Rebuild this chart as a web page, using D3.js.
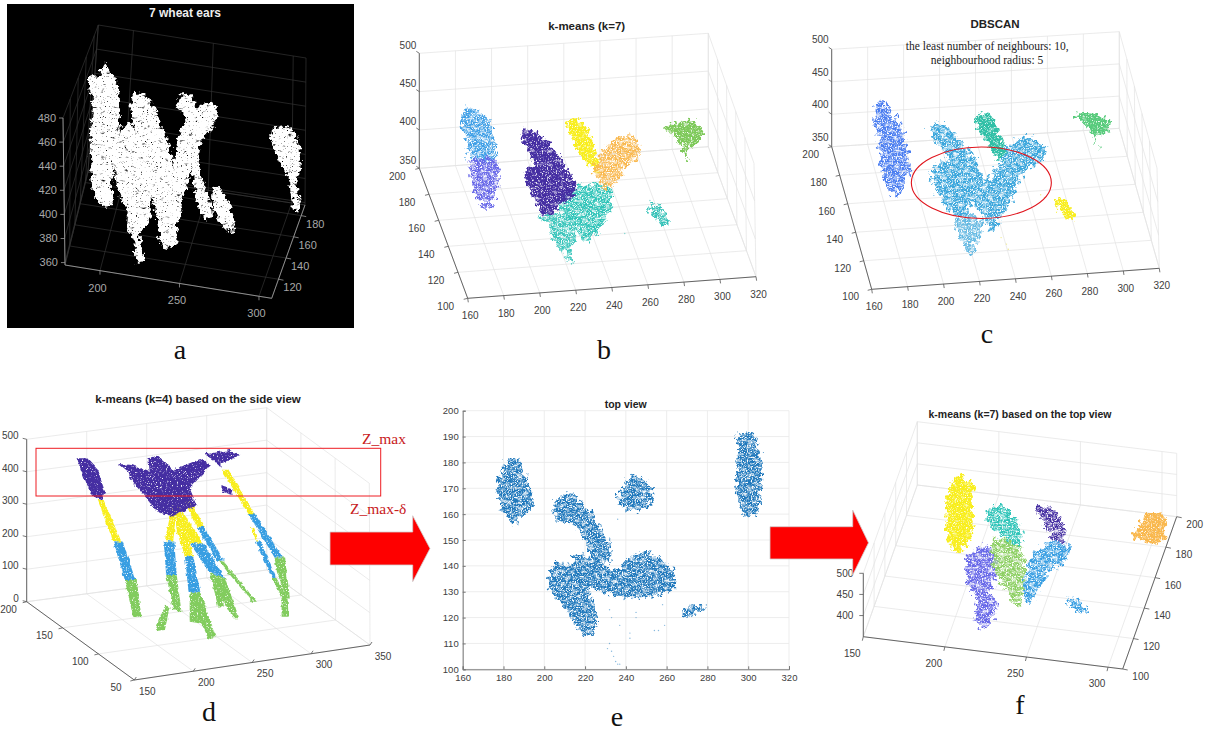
<!DOCTYPE html>
<html>
<head>
<meta charset="utf-8">
<script src="https://cdn.jsdelivr.net/npm/d3@7"></script>
<style>
    html, body { margin: 0; background: #fff; }
    svg { display: block; }
    text { font-family: "Liberation Sans", Arial, sans-serif; }
    .serif { font-family: "Liberation Serif", "Times New Roman", serif; }
</style>
</head>
<body>
<svg id="chart" width="1213" height="732"></svg>
<script>
// tick labels
const xTicksWide = [160, 180, 200, 220, 240, 260, 280, 300, 320];
const yTicksWide = [100, 120, 140, 160, 180, 200];
const zTicksWide = [350, 400, 450, 500];
const xTicksA = [200, 250, 300];
const yTicksA = [120, 140, 160, 180];
const zTicksA = [360, 380, 400, 420, 440, 460, 480];
const xTicksD = [150, 200, 250, 300, 350];
const yTicksD = [50, 100, 150, 200];
const zTicksD = [0, 100, 200, 300, 400, 500];
const xTicksE = [160, 180, 200, 220, 240, 260, 280, 300, 320];
const yTicksE = [100, 110, 120, 130, 140, 150, 160, 170, 180, 190, 200];
const xTicksF = [150, 200, 250, 300];
const yTicksF = [100, 120, 140, 160, 180, 200];
const zTicksF = [400, 450, 500];

// clouds of panels a, b, c, d, f: outlines read as [x, z] along the picture's axes
const wheatEars = [
    [[202,526],[207,517],[211,509],[212,479],[210,462],[209,440],[207,423],[208,409],[201,407],[195,423],[194,445],[193,462],[195,490],[193,515],[199,516]],
    [[217,476],[222,468],[228,445],[230,432],[232,407],[230,393],[225,384],[226,373],[228,364],[223,361],[221,379],[217,387],[217,401],[211,420],[209,451],[211,468]],
    [[222,501],[229,499],[238,476],[244,454],[246,429],[243,415],[248,390],[248,376],[240,372],[235,401],[228,434],[222,468],[219,490]],
    [[250,498],[257,500],[261,490],[268,493],[273,490],[272,474],[266,465],[262,451],[266,423],[271,400],[266,396],[260,418],[258,437],[252,412],[249,393],[241,397],[244,423],[247,448],[250,468],[254,481],[248,490]],
    [[272,423],[276,421],[282,407],[285,390],[283,385],[276,392],[271,409]],
    [[316,474],[323,468],[327,443],[325,429],[326,403],[323,404],[319,429],[313,445],[309,459],[308,469]]
];
const kmeansBlue = [[159,430],[167,422],[172,413],[175,376],[175,361],[161,361],[160,383],[156,409]];
const kmeansViolet = [[161,361],[175,361],[177,339],[176,320],[171,296],[166,307],[162,330]];
const kmeansPurple = [[190,398],[193,401],[204,385],[213,357],[220,320],[210,300],[206,287],[199,298],[193,326],[191,346],[196,357],[193,374],[190,387]];
const kmeansYellow = [[215,411],[220,415],[226,402],[231,370],[233,339],[229,350],[223,365],[218,387]];
const kmeansOrange = [[236,378],[244,391],[252,391],[256,372],[248,352],[243,335],[237,324],[231,339],[229,350],[233,365]];
const kmeansTeal = [[211,313],[229,330],[240,322],[237,287],[230,261],[225,254],[217,283],[211,294]];
const kmeansTealLow = [[198,287],[209,291],[217,287],[220,261],[217,244],[218,224],[214,237],[207,257],[204,278]];
const kmeansTealSmall = [[260,300],[266,304],[270,287],[272,278],[269,276],[263,287]];
const kmeansGreen = [[269,402],[276,411],[284,413],[290,404],[288,385],[282,376],[283,354],[280,372],[275,391]];
const kmeansStray = [[239,300],[238,298],[247,265],[222,316],[227,327],[261,308]];
const dbscanBlue = [[164,421],[170,409],[176,381],[180,340],[181,309],[179,299],[176,283],[173,274],[167,294],[165,330],[163,371],[161,396]];
const dbscanCyan = [[193,383],[200,385],[209,360],[217,335],[224,299],[230,319],[237,353],[248,365],[257,347],[257,337],[243,304],[239,273],[231,237],[227,219],[222,242],[215,263],[213,245],[206,242],[198,273],[193,306],[198,327],[203,330],[194,365]];
const dbscanCyanLow = [[207,242],[220,242],[221,217],[217,196],[218,186],[216,183],[209,211]];
const dbscanTeal = [[218,396],[225,400],[231,371],[235,340],[231,330],[227,345],[221,371]];
const dbscanGreen = [[273,399],[283,401],[292,389],[292,373],[285,368],[287,345],[283,368],[280,381]];
const dbscanYellow = [[262,270],[267,268],[273,245],[270,237],[265,252]];
const dbscanStray = [[232,210],[235,200],[236,192],[254,276],[256,272]];
const sidePurple = [
    [[101,442],[110,442],[119,406],[125,339],[122,313],[115,323],[108,375]],
    [[137,424],[148,421],[163,400],[162,442],[169,450],[183,406],[206,439],[215,421],[197,349],[203,298],[183,262],[169,277],[158,329],[148,370],[145,400]],
    [[210,454],[231,467],[240,450],[224,426],[224,411],[217,436]],
    [[224,359],[234,344],[233,329],[224,339]]
];
const sideYellow = [
    [[119,313],[124,313],[139,185],[132,187]],
    [[182,293],[187,298],[209,180],[197,180],[200,139],[193,139],[186,216],[185,257],[183,185],[176,190]],
    [[192,318],[196,318],[210,231],[203,231]],
    [[224,406],[230,406],[252,269],[247,269]],
    [[248,231],[251,226],[255,185],[254,185]]
];
const sideBlue = [
    [[132,187],[140,185],[151,67],[142,67]],
    [[175,187],[184,185],[186,82],[177,82]],
    [[193,139],[200,139],[206,31],[196,31]],
    [[197,180],[209,180],[227,72],[214,92]],
    [[203,231],[209,231],[226,128],[220,123]],
    [[247,269],[252,272],[276,136],[269,136]],
    [[253,185],[257,185],[270,77],[267,74]]
];
const sideGreen = [
    [[142,67],[152,67],[156,-46],[149,-46]],
    [[177,82],[186,82],[190,-31],[183,-26]],
    [[177,-12],[180,-15],[176,-87],[168,-90],[172,-41]],
    [[197,31],[206,31],[219,-108],[213,-113],[207,-67],[197,-62]],
    [[214,92],[227,72],[239,-51],[234,-51],[225,10],[226,-15],[221,-15]],
    [[221,128],[226,123],[254,0],[250,0]],
    [[269,136],[278,136],[282,10],[279,10],[271,92]],
    [[267,74],[270,77],[280,10],[281,-46],[275,-46],[275,10]]
];
const topYellow = [[210,726],[214,708],[218,705],[217,663],[218,610],[214,564],[207,549],[202,580],[201,640],[203,689]];
const topTeal = [[230,652],[238,649],[245,614],[248,580],[243,557],[237,580],[228,606],[226,625]];
const topPurple = [[257,649],[265,652],[272,621],[274,572],[269,568],[264,595],[260,621],[257,633]];
const topOrange = [[325,636],[335,634],[336,587],[334,572],[325,572],[316,583],[321,617]];
const topGreen = [[231,580],[243,568],[248,549],[249,458],[245,421],[240,451],[232,496],[229,542]];
const topBlue = [[259,557],[271,572],[278,549],[273,523],[265,504],[258,458],[251,432],[249,458],[252,519]];
const topViolet = [[214,542],[229,561],[232,496],[228,458],[233,436],[229,390],[225,375],[219,398],[220,436],[215,474],[213,519]];
const topBlueSmall = [[275,443],[281,443],[288,417],[286,405],[280,421]];

// panel e is a plain top view, so these outlines are [x, y] on its own axes
const topViewEars = [
    [[183,182],[187,181],[190,176],[193,170],[195,164],[190,160],[185,156],[181,160],[178,165],[177,172],[180,178]],
    [[295,191],[300,191],[303,190],[305,186],[307,178],[306,168],[304,160],[298,160],[295,165],[294,175],[295,185]],
    [[236,166],[238,170],[241,174],[245,175],[249,173],[252,170],[254,167],[250,163],[245,161],[240,162],[237,163]],
    [[206,166],[213,168],[218,165],[223,160],[227,155],[231,150],[232,142],[225,142],[221,148],[215,156],[207,157],[205,161]],
    [[215,144],[222,143],[230,140],[236,138],[241,143],[250,145],[258,142],[263,138],[264,132],[258,129],[248,128],[240,128],[232,129],[225,131],[220,132],[215,136]],
    [[205,141],[212,141],[216,138],[220,133],[224,126],[226,118],[221,113],[216,117],[210,124],[205,128],[202,134]],
    [[268,121],[272,125],[276,125],[279,124],[274,122],[269,120]]
];
const topViewStray = [[232,110],[231,108],[233,107],[234,105],[235,103],[236,102],[237,102],[242,112],[242,114],[237,117],[254,115],[256,115],[259,117],[245,122],[245,120],[232,123],[233,120],[239,127],[258,125],[236,158]];

const svg = d3.select('#chart');
const lerp = (a, b, t) => [a[0] + (b[0] - a[0]) * t, a[1] + (b[1] - a[1]) * t];

const defs = svg.append('defs');
// rough edge, fine specks and softer holes, all from svg noise
function speckFilter(id, o) {
    const f = defs.append('filter').attr('id', id)
        .attr('x', '-5%').attr('y', '-5%').attr('width', '110%').attr('height', '110%')
        .attr('color-interpolation-filters', 'sRGB');
    f.append('feTurbulence').attr('type', 'fractalNoise').attr('baseFrequency', 0.22)
        .attr('numOctaves', 3).attr('seed', 9).attr('result', 'edge');
    f.append('feDisplacementMap').attr('in', 'SourceGraphic').attr('in2', 'edge')
        .attr('scale', o.rough).attr('xChannelSelector', 'R').attr('yChannelSelector', 'G').attr('result', 'rough');
    f.append('feTurbulence').attr('type', 'fractalNoise').attr('baseFrequency', 0.8)
        .attr('numOctaves', 2).attr('seed', 4).attr('result', 'fine');
    f.append('feColorMatrix').attr('in', 'fine').attr('type', 'matrix')
        .attr('values', `0 0 0 0 1  0 0 0 0 1  0 0 0 0 1  ${o.gain} 0 0 0 ${o.offset}`).attr('result', 'fineMask');
    f.append('feTurbulence').attr('type', 'fractalNoise').attr('baseFrequency', '0.17 0.3')
        .attr('numOctaves', 2).attr('seed', 21).attr('result', 'streak');
    f.append('feColorMatrix').attr('in', 'streak').attr('type', 'matrix')
        .attr('values', `0 0 0 0 1  0 0 0 0 1  0 0 0 0 1  ${o.holeGain} 0 0 0 ${o.holeOffset}`).attr('result', 'holeMask');
    f.append('feComposite').attr('in', 'rough').attr('in2', 'fineMask').attr('operator', 'in').attr('result', 'speck');
    f.append('feComposite').attr('in', 'speck').attr('in2', 'holeMask').attr('operator', 'in').attr('result', 'both');
    f.append('feGaussianBlur').attr('in', 'both').attr('stdDeviation', o.blur);
}
speckFilter('speck', { rough: 14, gain: 4, offset: -1.1, holeGain: 2.5, holeOffset: -0.3, blur: 0.5 });
speckFilter('speckDense', { rough: 12, gain: 4, offset: -0.85, holeGain: 2.5, holeOffset: 0, blur: 0.45 });
speckFilter('speckStrip', { rough: 4, gain: 5, offset: -1, holeGain: 2, holeOffset: 0.4, blur: 0.3 });
speckFilter('speckWhite', { rough: 10, gain: 6, offset: -1, holeGain: 4, holeOffset: -0.35, blur: 0.5 });

// one axes box: trilinear mapping between its eight pixel corners
function makeBox(cfg) {
    const sx = d3.scaleLinear().domain(cfg.x).range([0, 1]);
    const sy = d3.scaleLinear().domain(cfg.y).range([0, 1]);
    const sz = d3.scaleLinear().domain(cfg.z).range([0, 1]);
    const c = cfg.corners;
    return (x, y, z) => {
        const tx = sx(x), ty = sy(y);
        const low = lerp(lerp(c.O, c.X, tx), lerp(c.Y, c.XY, tx), ty);
        const high = lerp(lerp(c.Ot, c.Xt, tx), lerp(c.Yt, c.XYt, tx), ty);
        return lerp(low, high, sz(z));
    };
}

function drawBox(cfg) {
    const g = svg.append('g');
    const p = makeBox(cfg);
    const [x0, x1] = cfg.x, [y0, y1] = cfg.y, [z0, z1] = cfg.z;
    const seg = (a, b, color, w) => g.append('line')
        .attr('x1', a[0]).attr('y1', a[1]).attr('x2', b[0]).attr('y2', b[1])
        .attr('stroke', color).attr('stroke-width', w);
    const xs = [x0, ...cfg.xTicks.filter(d => d > x0 && d < x1), x1];
    const ys = [y0, ...cfg.yTicks.filter(d => d > y0 && d < y1), y1];
    const zs = [z0, ...cfg.zGrid.filter(d => d > z0 && d < z1), z1];
    xs.forEach(d => seg(p(d, y0, z0), p(d, y1, z0), cfg.grid, 0.7));
    ys.forEach(d => seg(p(x0, d, z0), p(x1, d, z0), cfg.grid, 0.7));
    xs.forEach(d => seg(p(d, y1, z0), p(d, y1, z1), cfg.grid, 0.7));
    zs.forEach(d => seg(p(x0, y1, d), p(x1, y1, d), cfg.grid, 0.7));
    const side = cfg.sideAt === 'left' ? x0 : x1;
    ys.forEach(d => seg(p(side, d, z0), p(side, d, z1), cfg.grid, 0.7));
    zs.forEach(d => seg(p(side, y0, d), p(side, y1, d), cfg.grid, 0.7));

    // axes: x along the front, y on the far side from the wall, z on the wall's near corner
    const yLineAt = cfg.sideAt === 'left' ? x1 : x0;
    const zLineY = cfg.sideAt === 'left' ? y0 : y1;
    seg(p(x0, y0, z0), p(x1, y0, z0), cfg.axis, 0.9);
    seg(p(yLineAt, y0, z0), p(yLineAt, y1, z0), cfg.axis, 0.9);
    seg(p(x0, zLineY, z0), p(x0, zLineY, cfg.zAxisTop), cfg.axis, 0.9);

    const label = (pos, off, txt, anchor) => g.append('text')
        .attr('x', pos[0] + off[0]).attr('y', pos[1] + off[1])
        .attr('text-anchor', anchor).attr('font-size', cfg.fontSize).attr('fill', cfg.tickColor).text(txt);
    const tick = (pos, v) => seg(pos, [pos[0] + v[0], pos[1] + v[1]], cfg.axis, 0.8);
    cfg.xTicks.forEach(d => {
        const pos = p(d, y0, z0);
        tick(pos, cfg.xMark);
        label(pos, cfg.xLabel, d, 'middle');
    });
    cfg.yTicks.forEach(d => {
        const pos = p(yLineAt, d, z0);
        tick(pos, cfg.yMark);
        label(pos, cfg.yLabel, d, 'middle');
    });
    cfg.zTicks.forEach(d => {
        const pos = p(x0, zLineY, d);
        tick(pos, cfg.zMark);
        label(pos, cfg.zLabel, d, 'end');
    });
    return g;
}

// clouds are filled outlines broken up into specks by the svg filter
function drawCloud(g, xs, ys, outline, color, filter, opacity, curve) {
    g.append('path')
        .attr('d', d3.line().x(d => xs(d[0])).y(d => ys(d[1])).curve(curve || d3.curveCatmullRomClosed.alpha(0.5))(outline))
        .attr('fill', color)
        .attr('opacity', opacity || 1)
        .attr('filter', `url(#${filter})`);
}
function drawStray(g, xs, ys, pts, color) {
    g.selectAll(null).data(pts).enter().append('circle')
        .attr('cx', d => xs(d[0])).attr('cy', d => ys(d[1]))
        .attr('r', 0.7).attr('fill', color).attr('opacity', 0.6);
}
const title = (x, y, txt, size, color) => svg.append('text')
    .attr('x', x).attr('y', y).attr('text-anchor', 'middle')
    .attr('font-size', size).attr('font-weight', 'bold').attr('fill', color || '#222').text(txt);
const panelLetter = (x, y, txt) => svg.append('text').attr('class', 'serif')
    .attr('x', x).attr('y', y).attr('text-anchor', 'middle')
    .attr('font-size', 28).attr('fill', '#111').text(txt);

// a: 7 wheat ears
svg.append('rect').attr('x', 7).attr('y', 4).attr('width', 347).attr('height', 324).attr('fill', '#000');
const boxA = {
    x: [178, 308], y: [102, 190], z: [358, 480],
    corners: { O: [65, 265], X: [271.7, 298.3], Y: [88, 172], XY: [305, 205],
        Ot: [63, 118], Xt: [271, 150], Yt: [98.3, 25], XYt: [306, 58] },
    xTicks: xTicksA, yTicks: yTicksA, zTicks: zTicksA, zGrid: zTicksA, zAxisTop: 480,
    sideAt: 'left', grid: '#333', axis: '#999', tickColor: '#a8a8a8', fontSize: 11,
    xMark: [0, 4], yMark: [5, 1], zMark: [-4, 0],
    xLabel: [-2.5, 21], yLabel: [14, 12], zLabel: [-7, 3.5]
};
const gA = drawBox(boxA);
const viewXA = d3.scaleLinear().domain([200, 300]).range([100.7, 258.3]);
const viewZA = d3.scaleLinear().domain([360, 480]).range([262.7, 118.3]);
wheatEars.forEach(d => drawCloud(gA, viewXA, viewZA, d, '#fff', 'speckWhite'));
title(185, 17, '7 wheat ears', 12, '#eee');
panelLetter(180, 359, 'a');

// b: k-means (k=7)
const boxB = {
    x: [160, 320], y: [100, 200], z: [350, 500],
    corners: { O: [467.7, 298.3], X: [756, 276.7], Y: [419.3, 168.3], XY: [708.3, 146.7],
        Ot: [467, 180], Xt: [754, 163.3], Yt: [419.3, 53.3], XYt: [708.3, 33.3] },
    xTicks: xTicksWide, yTicks: yTicksWide, zTicks: zTicksWide, zGrid: zTicksWide, zAxisTop: 500,
    sideAt: 'right', grid: '#e3e3e3', axis: '#555', tickColor: '#404040', fontSize: 10,
    xMark: [0.6, 4], yMark: [-4, 1], zMark: [-3, -2],
    xLabel: [2.5, 21], yLabel: [-22, 11.5], zLabel: [-3, -4.5]
};
const gB = drawBox(boxB);
const viewXB = d3.scaleLinear().domain([160, 320]).range([468.3, 756]);
const viewZB = d3.scaleLinear().domain([350, 500]).range([168.3, 53.3]);
drawCloud(gB, viewXB, viewZB, kmeansTealLow, '#3cc6bc', 'speck');
drawCloud(gB, viewXB, viewZB, kmeansTeal, '#2ec4b8', 'speck');
drawCloud(gB, viewXB, viewZB, kmeansTealSmall, '#35c2b8', 'speck');
drawCloud(gB, viewXB, viewZB, kmeansBlue, '#3f9fe6', 'speck');
drawCloud(gB, viewXB, viewZB, kmeansViolet, '#6767e8', 'speck');
drawCloud(gB, viewXB, viewZB, kmeansYellow, '#f8ee1e', 'speckDense');
drawCloud(gB, viewXB, viewZB, kmeansOrange, '#f9b84e', 'speck');
drawCloud(gB, viewXB, viewZB, kmeansPurple, '#452ea2', 'speckDense');
drawCloud(gB, viewXB, viewZB, kmeansGreen, '#7ec95a', 'speckDense');
drawStray(gB, viewXB, viewZB, kmeansStray, '#35c2b8');
title(586.7, 30, 'k-means (k=7)', 11.5);
panelLetter(604, 359, 'b');

// c: DBSCAN
const boxC = {
    x: [160, 320], y: [100, 200], z: [350, 500],
    corners: { O: [871.7, 289.3], X: [1159.3, 268.3], Y: [831.7, 146.7], XY: [1119.3, 128.3],
        Ot: [871, 190], Xt: [1157, 168], Yt: [831.7, 49.3], XYt: [1119.3, 31.7] },
    xTicks: xTicksWide, yTicks: yTicksWide, zTicks: zTicksWide, zGrid: zTicksWide, zAxisTop: 500,
    sideAt: 'right', grid: '#e3e3e3', axis: '#555', tickColor: '#404040', fontSize: 10,
    xMark: [0.6, 4], yMark: [-4, 1], zMark: [-3, -2],
    xLabel: [2.5, 21], yLabel: [-21, 11], zLabel: [-3, -6]
};
const gC = drawBox(boxC);
const viewXC = d3.scaleLinear().domain([160, 320]).range([871.7, 1159.3]);
const viewZC = d3.scaleLinear().domain([350, 500]).range([146.7, 49.3]);
drawCloud(gC, viewXC, viewZC, dbscanBlue, '#4a7df0', 'speck');
drawCloud(gC, viewXC, viewZC, dbscanCyanLow, '#3ea8dc', 'speck', 0.8);
drawCloud(gC, viewXC, viewZC, dbscanTeal, '#2fbfa6', 'speckDense');
drawCloud(gC, viewXC, viewZC, dbscanCyan, '#3aa6dc', 'speck');
drawCloud(gC, viewXC, viewZC, dbscanGreen, '#58cb7c', 'speckDense');
drawCloud(gC, viewXC, viewZC, dbscanYellow, '#f8ee1e', 'speckDense');
drawStray(gC, viewXC, viewZC, dbscanStray, '#e8dc40');
gC.append('ellipse')
    .attr('cx', viewXC(221)).attr('cy', viewZC(294.5)).attr('rx', 70).attr('ry', 35.7)
    .attr('fill', 'none').attr('stroke', '#e0141c').attr('stroke-width', 1.1);
title(995, 28, 'DBSCAN', 11.5);
svg.append('text').attr('class', 'serif').attr('x', 987.3).attr('y', 49.5).attr('text-anchor', 'middle')
    .attr('font-size', 11.5).attr('fill', '#222').text('the least number of neighbours: 10,');
svg.append('text').attr('class', 'serif').attr('x', 987).attr('y', 64).attr('text-anchor', 'middle')
    .attr('font-size', 11.5).attr('fill', '#222').text('neighbourhood radius: 5');
panelLetter(987, 343, 'c');

// d: k-means (k=4) on the side view
const boxD = {
    x: [150, 350], y: [50, 200], z: [0, 500],
    corners: { O: [134.3, 680], X: [370, 645], Y: [26.7, 601.7], XY: [266.7, 570],
        Ot: [134, 510], Xt: [369.3, 483.3], Yt: [26.7, 439.3], XYt: [266.7, 407.7] },
    xTicks: xTicksD, yTicks: yTicksD, zTicks: zTicksD, zGrid: zTicksD, zAxisTop: 500,
    sideAt: 'right', grid: '#e3e3e3', axis: '#555', tickColor: '#404040', fontSize: 10,
    xMark: [2, -3], yMark: [-4, 1], zMark: [-4, -1],
    xLabel: [13, 14.5], yLabel: [-18.2, 11], zLabel: [-8, 0]
};
const gD = drawBox(boxD);
const viewXD = d3.scaleLinear().domain([150, 350]).range([134.3, 370]);
const viewZD = d3.scaleLinear().domain([0, 500]).range([601.7, 439.3]);
const straight = d3.curveLinearClosed;
sideGreen.forEach(d => drawCloud(gD, viewXD, viewZD, d, '#82cc5e', 'speckStrip', 1, straight));
sideBlue.forEach(d => drawCloud(gD, viewXD, viewZD, d, '#389ee2', 'speckStrip', 1, straight));
sideYellow.forEach(d => drawCloud(gD, viewXD, viewZD, d, '#f8ee1e', 'speckStrip', 1, straight));
sidePurple.forEach(d => drawCloud(gD, viewXD, viewZD, d, '#452ea2', 'speckStrip', 1, straight));
svg.append('rect').attr('x', 36).attr('y', 448.3).attr('width', 344.7).attr('height', 47.7)
    .attr('fill', 'none').attr('stroke', '#ee1c22').attr('stroke-width', 1);
svg.append('text').attr('class', 'serif').attr('x', 362).attr('y', 444).attr('font-size', 15.5).attr('fill', '#c8201c').text('Z_max');
svg.append('text').attr('class', 'serif').attr('x', 350).attr('y', 514).attr('font-size', 15.5).attr('fill', '#c8201c').text('Z_max-δ');
title(198, 403, 'k-means (k=4) based on the side view', 11.5);
panelLetter(209, 721, 'd');

// e: top view, plain 2d axes
const xE = d3.scaleLinear().domain([160, 320]).range([462.7, 789]);
const yE = d3.scaleLinear().domain([100, 200]).range([669.3, 410.7]);
const gE = svg.append('g');
gE.selectAll('.gv').data(xTicksE).enter().append('line')
    .attr('x1', xE).attr('x2', xE).attr('y1', yE(100)).attr('y2', yE(200))
    .attr('stroke', '#e8e8e8').attr('stroke-width', 0.8);
gE.selectAll('.gh').data(yTicksE).enter().append('line')
    .attr('y1', yE).attr('y2', yE).attr('x1', xE(160)).attr('x2', xE(320))
    .attr('stroke', '#e8e8e8').attr('stroke-width', 0.8);
topViewEars.forEach(d => drawCloud(gE, xE, yE, d, '#1f78bc', 'speck'));
drawStray(gE, xE, yE, topViewStray, '#3a8cc8');
gE.append('g').attr('transform', `translate(0, ${yE(100)})`)
    .call(d3.axisBottom(xE).tickValues(xTicksE).tickSize(-3).tickPadding(5))
    .call(a => a.selectAll('text').attr('font-size', 9.5).attr('fill', '#404040'))
    .call(a => a.selectAll('line,path').attr('stroke', '#777'));
gE.append('g').attr('transform', `translate(${xE(160)}, 0)`)
    .call(d3.axisLeft(yE).tickValues(yTicksE).tickSize(-3).tickPadding(4))
    .call(a => a.selectAll('text').attr('font-size', 9.5).attr('fill', '#404040'))
    .call(a => a.selectAll('line,path').attr('stroke', '#777'));
title(625.7, 407.5, 'top view', 10.5);
panelLetter(617, 726, 'e');

// f: k-means (k=7) on the top view
const boxF = {
    x: [150, 309], y: [100, 200], z: [350, 500],
    corners: { O: [863.3, 636.7], X: [1122.7, 669], Y: [917.3, 485], XY: [1176.7, 516.7],
        Ot: [863.3, 573.3], Xt: [1122, 600], Yt: [917.3, 421.7], XYt: [1176.7, 453.3] },
    xTicks: xTicksF, yTicks: yTicksF, zTicks: zTicksF, zGrid: zTicksF, zAxisTop: 500,
    sideAt: 'left', grid: '#e3e3e3', axis: '#555', tickColor: '#404040', fontSize: 10,
    xMark: [-1, 4], yMark: [5, 1], zMark: [-4, 0],
    xLabel: [-11, 20], yLabel: [18, 11], zLabel: [-10, 3.5]
};
const gF = drawBox(boxF);
const viewXF = d3.scaleLinear().domain([150, 300]).range([862.7, 1106.7]);
const viewZF = d3.scaleLinear().domain([400, 500]).range([617.3, 573.3]);
drawCloud(gF, viewXF, viewZF, topYellow, '#f8ee1e', 'speckDense');
drawCloud(gF, viewXF, viewZF, topTeal, '#2ec4b8', 'speck');
drawCloud(gF, viewXF, viewZF, topPurple, '#452ea2', 'speck');
drawCloud(gF, viewXF, viewZF, topOrange, '#f9b84e', 'speckDense');
drawCloud(gF, viewXF, viewZF, topViolet, '#6767e8', 'speck');
drawCloud(gF, viewXF, viewZF, topBlue, '#389ee2', 'speck');
drawCloud(gF, viewXF, viewZF, topGreen, '#8ccf62', 'speck');
drawCloud(gF, viewXF, viewZF, topBlueSmall, '#389ee2', 'speck');
title(1020, 417.5, 'k-means (k=7) based on the top view', 10.5);
panelLetter(1020, 714, 'f');

// red arrows between the panels
const arrows = [[330, 412.7, 430, 532, 565, 515.7, 581.7], [770, 852.7, 868.5, 526.7, 559, 510, 575]];
svg.selectAll('.arrow').data(arrows).enter().append('polygon')
    .attr('points', d => [[d[0], d[3]], [d[1], d[3]], [d[1], d[5]], [d[2], (d[3] + d[4]) / 2], [d[1], d[6]], [d[1], d[4]], [d[0], d[4]]].join(' '))
    .attr('fill', '#fe0000').attr('stroke', '#cfcfcf').attr('stroke-width', 0.8);
</script>
</body>
</html>
